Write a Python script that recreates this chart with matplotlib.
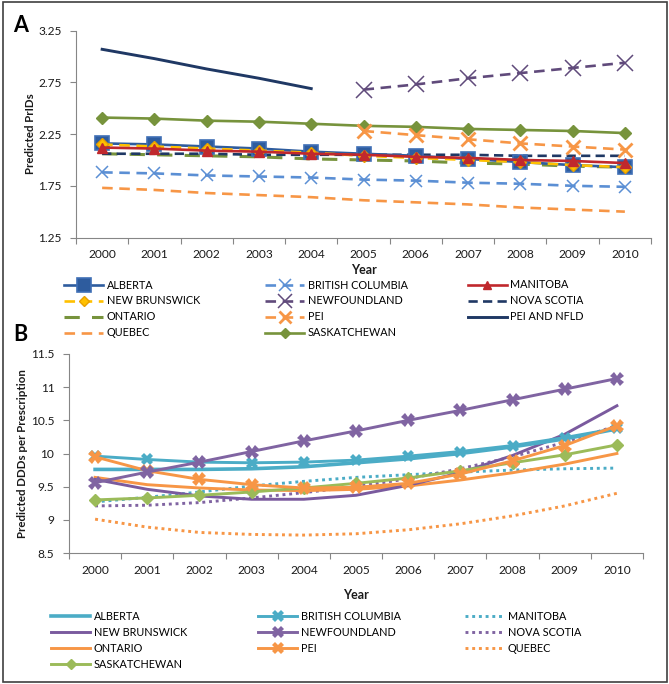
import numpy as np
import matplotlib
matplotlib.use("Agg")
import matplotlib.pyplot as plt
from matplotlib.lines import Line2D
from matplotlib.patches import Rectangle

plt.rcParams['font.family'] = ['Lato', 'DejaVu Sans']

years = ['2000', '2001', '2002', '2003', '2004', '2005', '2006', '2007', '2008', '2009', '2010']
N = np.nan

# Panel A: Predicted PrIDs
a_alberta = [2.16, 2.15, 2.13, 2.11, 2.08, 2.06, 2.04, 2.01, 1.98, 1.95, 1.93]
a_bc = [1.88, 1.87, 1.85, 1.84, 1.83, 1.81, 1.80, 1.78, 1.77, 1.75, 1.74]
a_manitoba = [2.12, 2.11, 2.09, 2.08, 2.06, 2.05, 2.03, 2.02, 2.00, 1.99, 1.97]
a_nb = [2.15, 2.13, 2.11, 2.09, 2.07, 2.04, 2.02, 2.00, 1.98, 1.95, 1.93]
a_nfld = [N, N, N, N, N, 2.68, 2.73, 2.79, 2.84, 2.89, 2.94]
a_ns = [2.06, 2.06, 2.06, 2.05, 2.05, 2.05, 2.05, 2.05, 2.04, 2.04, 2.04]
a_ontario = [2.06, 2.05, 2.04, 2.03, 2.01, 2.00, 1.99, 1.97, 1.96, 1.94, 1.93]
a_pei = [N, N, N, N, N, 2.28, 2.24, 2.20, 2.16, 2.13, 2.10]
a_peinfld = [3.07, 2.98, 2.88, 2.79, 2.69, N, N, N, N, N, N]
a_quebec = [1.73, 1.71, 1.68, 1.66, 1.64, 1.61, 1.59, 1.57, 1.54, 1.52, 1.50]
a_sask = [2.41, 2.40, 2.38, 2.37, 2.35, 2.33, 2.32, 2.30, 2.29, 2.28, 2.26]

# Panel B: Predicted DDDs per Prescription
b_alberta = [9.76, 9.76, 9.76, 9.77, 9.80, 9.86, 9.92, 10.00, 10.10, 10.22, 10.37]
b_bc = [9.96, 9.91, 9.87, 9.86, 9.87, 9.90, 9.96, 10.03, 10.12, 10.24, 10.38]
b_manitoba = [9.27, 9.34, 9.42, 9.51, 9.58, 9.64, 9.68, 9.72, 9.75, 9.77, 9.78]
b_nb = [9.61, 9.46, 9.36, 9.31, 9.31, 9.37, 9.52, 9.71, 9.97, 10.29, 10.72]
b_nfld = [9.56, 9.72, 9.87, 10.03, 10.19, 10.34, 10.50, 10.65, 10.81, 10.97, 11.13]
b_ns = [9.21, 9.22, 9.26, 9.33, 9.41, 9.50, 9.62, 9.77, 9.95, 10.17, 10.42]
b_ontario = [9.64, 9.53, 9.48, 9.45, 9.44, 9.46, 9.51, 9.60, 9.71, 9.84, 10.00]
b_pei = [9.95, 9.74, 9.61, 9.53, 9.48, 9.49, 9.55, 9.69, 9.89, 10.12, 10.42]
b_quebec = [9.01, 8.89, 8.81, 8.78, 8.77, 8.79, 8.85, 8.94, 9.06, 9.21, 9.40]
b_sask = [9.30, 9.33, 9.37, 9.42, 9.48, 9.55, 9.63, 9.74, 9.86, 9.98, 10.13]

W, H = 669, 684
fig = plt.figure(figsize=(W / 100, H / 100), dpi=100)

def fx(px):
    return px / W

def fy(py):
    return 1 - py / H

axA = fig.add_axes([fx(76), fy(237.5), fx(651 - 76), (237.5 - 30.7) / H])
axB = fig.add_axes([fx(69), fy(553), fx(643 - 69), (553 - 354) / H])

x = np.arange(len(years))
grey = '#868686'

def style_axes(ax, ylim, yticks, fmt):
    ax.set_xlim(-0.5, len(years) - 0.5)
    ax.set_ylim(*ylim)
    ax.set_yticks(yticks)
    ax.set_yticklabels([fmt(v) for v in yticks])
    ax.set_xticks(x)
    ax.set_xticklabels(years)
    ax.set_xticks(np.arange(-0.5, len(years)), minor=True)
    ax.tick_params(axis='x', which='major', length=0, pad=8.5, labelsize=8.6, colors='#1a1a1a')
    ax.tick_params(axis='x', which='minor', length=4, width=0.8, color=grey, direction='out')
    ax.tick_params(axis='y', which='major', length=4, width=0.8, color=grey, direction='out',
                   pad=6.5, labelsize=8.6, labelcolor='#1a1a1a')
    for s in ['top', 'right']:
        ax.spines[s].set_visible(False)
    for s in ['left', 'bottom']:
        ax.spines[s].set_color(grey)
        ax.spines[s].set_linewidth(0.8)

style_axes(axA, (1.25, 3.25), [1.25, 1.75, 2.25, 2.75, 3.25], lambda v: f'{v:.2f}')
style_axes(axB, (8.5, 11.5), [8.5, 9, 9.5, 10, 10.5, 11, 11.5], lambda v: f'{v:g}')

lw = 1.9
# Panel A series
hA = {}
hA['QUEBEC'], = axA.plot(x, a_quebec, color='#f79646', lw=lw, dashes=(4, 2.5), label='QUEBEC')
hA['BRITISH COLUMBIA'], = axA.plot(x, a_bc, color='#5b8fd4', lw=lw, dashes=(4, 2.5), marker='x', ms=9, mew=1.1, label='BRITISH COLUMBIA')
hA['ONTARIO'], = axA.plot(x, a_ontario, color='#77933c', lw=2.2, dashes=(5, 4), label='ONTARIO')
hA['NOVA SCOTIA'], = axA.plot(x, a_ns, color='#1f3864', lw=lw, dashes=(3.5, 2), label='NOVA SCOTIA')
hA['ALBERTA'], = axA.plot(x, a_alberta, color='#2e5c9e', lw=lw, marker='s', ms=10.5, mfc='#2e5c9e', mec='#3f6fb5', mew=1.2, label='ALBERTA')
hA['NEW BRUNSWICK'], = axA.plot(x, a_nb, color='#ffc000', lw=lw, dashes=(4, 2.5), marker='D', ms=6, mfc='#ffc000', mec='#e8a000', label='NEW BRUNSWICK')
hA['MANITOBA'], = axA.plot(x, a_manitoba, color='#c0282d', lw=lw, marker='^', ms=7, label='MANITOBA')
hA['SASKATCHEWAN'], = axA.plot(x, a_sask, color='#77933c', lw=lw, marker='D', ms=6, label='SASKATCHEWAN')
hA['PEI'], = axA.plot(x, a_pei, color='#f79646', lw=lw, dashes=(4, 2.5), marker='x', ms=10, mew=2, label='PEI')
hA['NEWFOUNDLAND'], = axA.plot(x, a_nfld, color='#604a7b', lw=lw, dashes=(4, 2.5), marker='x', ms=11, mew=1.1, label='NEWFOUNDLAND')
hA['PEI AND NFLD'], = axA.plot(x, a_peinfld, color='#1f3864', lw=2.1, label='PEI AND NFLD')

# Panel B series
lwb = 2.1
dot = (0, (1, 1.3))
hB = {}
hB['QUEBEC'], = axB.plot(x, b_quebec, color='#f79646', lw=lwb, ls=dot, label='QUEBEC')
hB['MANITOBA'], = axB.plot(x, b_manitoba, color='#4bacc6', lw=lwb, ls=dot, label='MANITOBA')
hB['NOVA SCOTIA'], = axB.plot(x, b_ns, color='#8064a2', lw=lwb, ls=dot, label='NOVA SCOTIA')
hB['ONTARIO'], = axB.plot(x, b_ontario, color='#f79646', lw=lwb, label='ONTARIO')
hB['NEW BRUNSWICK'], = axB.plot(x, b_nb, color='#7a5a9e', lw=lwb, label='NEW BRUNSWICK')
hB['ALBERTA'], = axB.plot(x, b_alberta, color='#4bacc6', lw=2.6, label='ALBERTA')
hB['BRITISH COLUMBIA'], = axB.plot(x, b_bc, color='#4bacc6', lw=lwb, marker='X', ms=9, mew=0, label='BRITISH COLUMBIA')
hB['SASKATCHEWAN'], = axB.plot(x, b_sask, color='#9bbb59', lw=lwb, marker='D', ms=6, label='SASKATCHEWAN')
hB['PEI'], = axB.plot(x, b_pei, color='#f79646', lw=lwb, marker='X', ms=10, mew=0, label='PEI')
hB['NEWFOUNDLAND'], = axB.plot(x, b_nfld, color='#8064a2', lw=lwb, marker='X', ms=10, mew=0, label='NEWFOUNDLAND')

colsA = [['ALBERTA', 'NEW BRUNSWICK', 'ONTARIO', 'QUEBEC'],
         ['BRITISH COLUMBIA', 'NEWFOUNDLAND', 'PEI', 'SASKATCHEWAN'],
         ['MANITOBA', 'NOVA SCOTIA', 'PEI AND NFLD']]
colsB = [['ALBERTA', 'NEW BRUNSWICK', 'ONTARIO', 'SASKATCHEWAN'],
         ['BRITISH COLUMBIA', 'NEWFOUNDLAND', 'PEI'],
         ['MANITOBA', 'NOVA SCOTIA', 'QUEBEC']]

legfs = 7.8
def add_col_legend(handles, names, xpx, ypx, spacing):
    fig.legend([handles[n] for n in names], names, loc='upper left',
               bbox_to_anchor=(fx(xpx), fy(ypx)), frameon=False, fontsize=legfs,
               handlelength=3.6, handletextpad=0.35, borderpad=0, borderaxespad=0,
               labelspacing=spacing, markerscale=0.9)

for xpx, names in zip([64, 265, 467.6], colsA):
    add_col_legend(hA, names, xpx, 279.5, 0.46)
for xpx, names in zip([51, 258, 465], colsB):
    add_col_legend(hB, names, xpx, 610.5, 0.47)

tc = '#1a1a1a'
fig.text(fx(363.5), fy(270), 'Year', ha='center', va='center', fontsize=9, weight='bold', color=tc)
fig.text(fx(356), fy(595), 'Year', ha='center', va='center', fontsize=9, weight='bold', color=tc)
fig.text(fx(30), fy(134), 'Predicted PrIDs', ha='center', va='center', rotation=90, fontsize=8.3, weight='bold', color=tc)
fig.text(fx(23), fy(454), 'Predicted DDDs per Prescription', ha='center', va='center', rotation=90, fontsize=8.3, weight='bold', color=tc)
fig.text(fx(20.5), fy(25.5), 'A', ha='center', va='center', fontsize=15.5, weight='bold', color='black')
fig.text(fx(20.5), fy(335), 'B', ha='center', va='center', fontsize=15.5, weight='bold', color='black')

fig.patches.append(Rectangle((fx(2.5), fy(682)), fx(664), (682 - 2) / H, transform=fig.transFigure,
                             fill=False, edgecolor='#404040', lw=1.2, figure=fig))

fig.savefig('out.png', dpi=100)
